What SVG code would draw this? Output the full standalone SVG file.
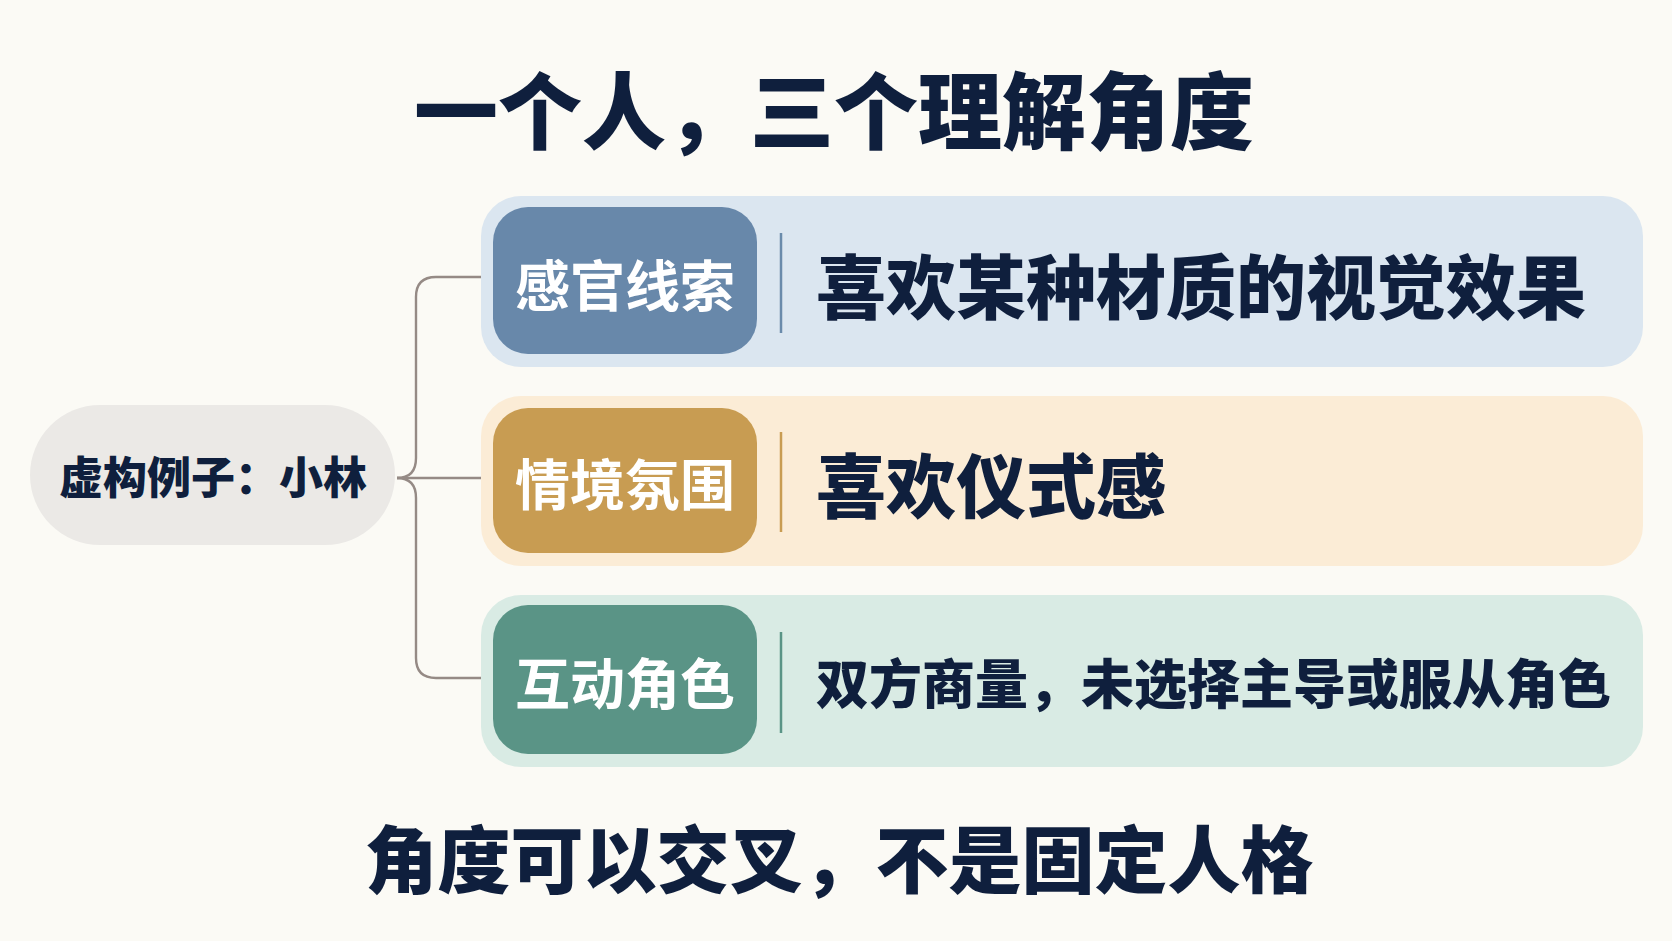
<svg xmlns="http://www.w3.org/2000/svg" width="1672" height="941" viewBox="0 0 1672 941">
<style>
text{font-family:"Noto Sans CJK SC","Noto Sans CJK JP",sans-serif;dominant-baseline:central}
.dark{fill:#0f1f3d;font-weight:900}
.lab{fill:#ffffff;font-weight:700;font-size:55px;text-anchor:middle}
.conn{fill:none;stroke:#958a85;stroke-width:2.4}
</style>
<rect width="1672" height="941" fill="#fbfaf5"/>
<text id="title" class="dark" x="834" y="106" font-size="84" text-anchor="middle">一个人，三个理解角度</text>
<g id="connectors">
<path class="conn" d="M397 478 Q416 478 416 458 L416 297 Q416 277 436 277 L482 277"/>
<path class="conn" d="M397 478 Q416 478 416 498 L416 658 Q416 678 436 678 L482 678"/>
<path class="conn" d="M397 478 L482 478"/>
</g>
<g id="center">
<rect x="30" y="405" width="365" height="140" rx="70" fill="#ebe9e6"/>
<text class="dark" x="213" y="475" font-size="44" text-anchor="middle">虚构例子：小林</text>
</g>
<g id="row1">
<rect x="481" y="196" width="1162" height="171" rx="40" fill="#dbe6f0"/>
<rect x="493" y="207" width="264" height="147" rx="35" fill="#6888aa"/>
<text class="lab" x="625" y="282">感官线索</text>
<line x1="781" y1="233" x2="781" y2="333" stroke="#6a8bab" stroke-width="2.5"/>
<text class="dark" x="816" y="283" font-size="70">喜欢某种材质的视觉效果</text>
</g>
<g id="row2">
<rect x="481" y="396" width="1162" height="170" rx="40" fill="#fbecd6"/>
<rect x="493" y="408" width="264" height="145" rx="35" fill="#c89c52"/>
<text class="lab" x="625" y="481">情境氛围</text>
<line x1="781" y1="432" x2="781" y2="532" stroke="#c89c52" stroke-width="2.5"/>
<text class="dark" x="816" y="482" font-size="70">喜欢仪式感</text>
</g>
<g id="row3">
<rect x="481" y="595" width="1162" height="172" rx="40" fill="#d9ebe4"/>
<rect x="493" y="605" width="264" height="149" rx="35" fill="#5a9486"/>
<text class="lab" x="625" y="680">互动角色</text>
<line x1="781" y1="632" x2="781" y2="733" stroke="#5a9486" stroke-width="2.5"/>
<text class="dark" x="816" y="681" font-size="53">双方商量，未选择主导或服从角色</text>
</g>
<text id="footer" class="dark" x="839" y="855" font-size="73" text-anchor="middle">角度可以交叉，不是固定人格</text>
</svg>
